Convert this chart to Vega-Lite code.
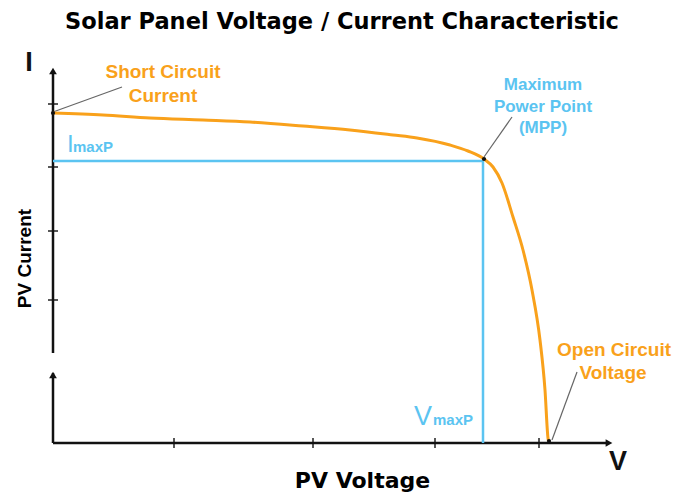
{
  "$schema": "https://vega.github.io/schema/vega-lite/v6.json",
  "width": 560,
  "height": 378,
  "autosize": {"type": "none"},
  "padding": {"left": 53, "top": 65, "right": 65, "bottom": 52},
  "background": "white",
  "config": {"view": {"stroke": null}},
  "title": {
    "text": "Solar Panel Voltage / Current Characteristic",
    "font": "DejaVu Sans",
    "fontWeight": "bold",
    "fontSize": 22.5,
    "color": "#000000",
    "anchor": "middle",
    "baseline": "alphabetic",
    "offset": -2,
    "dx": 9
  },
  "datasets": {
    "curve": [
      {"v": 0, "i": 330}, {"v": 50, "i": 328}, {"v": 97, "i": 325}, {"v": 150, "i": 323},
      {"v": 197, "i": 321}, {"v": 250, "i": 317}, {"v": 297, "i": 313}, {"v": 340, "i": 308},
      {"v": 364, "i": 305}, {"v": 397, "i": 298}, {"v": 415, "i": 292}, {"v": 431, "i": 284},
      {"v": 440, "i": 276}, {"v": 449, "i": 260}, {"v": 460, "i": 226}, {"v": 470, "i": 193},
      {"v": 479, "i": 153}, {"v": 487, "i": 103}, {"v": 492, "i": 53}, {"v": 495, "i": 5},
      {"v": 495.5, "i": 2}
    ],
    "segments": [
      {"kind": "axis", "v": 0, "i": 0, "v2": 0, "i2": 70},
      {"kind": "axis", "v": 0, "i": 90, "v2": 0, "i2": 372},
      {"kind": "axis", "v": 0, "i": 0, "v2": 554, "i2": 0},
      {"kind": "mpp", "v": 0, "i": 282, "v2": 430, "i2": 282},
      {"kind": "mpp", "v": 430, "i": 282, "v2": 430, "i2": 0},
      {"kind": "leader", "v": 0, "i": 331, "v2": 69, "i2": 356},
      {"kind": "leader", "v": 431, "i": 286, "v2": 459, "i2": 326},
      {"kind": "leader", "v": 499, "i": 3, "v2": 524, "i2": 71}
    ],
    "ticks": [
      {"axis": "y", "v": 0, "i": 339}, {"axis": "y", "v": 0, "i": 276},
      {"axis": "y", "v": 0, "i": 212}, {"axis": "y", "v": 0, "i": 143},
      {"axis": "x", "v": 121, "i": 0}, {"axis": "x", "v": 260, "i": 0},
      {"axis": "x", "v": 382, "i": 0}, {"axis": "x", "v": 486, "i": 0}
    ],
    "arrows": [
      {"dir": "up", "v": 0, "i": 372},
      {"dir": "up", "v": 0, "i": 68},
      {"dir": "right", "v": 556, "i": 0}
    ],
    "dots": [
      {"v": 0, "i": 330}, {"v": 431, "i": 284}, {"v": 496, "i": 2}
    ],
    "labels": [
      {"kind": "orange", "v": 110, "i": 371, "text": "Short Circuit"},
      {"kind": "orange", "v": 110, "i": 347, "text": "Current"},
      {"kind": "orange", "v": 561, "i": 93, "text": "Open Circuit"},
      {"kind": "orange", "v": 560, "i": 70, "text": "Voltage"},
      {"kind": "blue", "v": 490, "i": 358, "text": "Maximum"},
      {"kind": "blue", "v": 490, "i": 336, "text": "Power Point"},
      {"kind": "blue", "v": 490, "i": 315, "text": "(MPP)"},
      {"kind": "symI", "v": 14, "i": 291, "text": "I"},
      {"kind": "symV", "v": 361, "i": 18, "text": "V"},
      {"kind": "sub", "v": 20, "i": 291, "text": "maxP"},
      {"kind": "sub", "v": 380, "i": 18, "text": "maxP"},
      {"kind": "axisletter", "v": -24, "i": 380, "text": "I"},
      {"kind": "axisletter", "v": 565, "i": -19, "text": "V"}
    ]
  },
  "encoding": {
    "x": {
      "field": "v", "type": "quantitative",
      "scale": {"domain": [0, 560], "nice": false, "zero": false},
      "axis": {
        "title": "PV Voltage", "domain": false, "ticks": false, "labels": false, "grid": false,
        "titleFont": "DejaVu Sans", "titleFontWeight": "bold", "titleFontSize": 22, "titleColor": "#000000",
        "titleX": 309, "titleY": 37, "titleBaseline": "middle", "titleAlign": "center"
      }
    },
    "y": {
      "field": "i", "type": "quantitative",
      "scale": {"domain": [0, 378], "nice": false, "zero": false},
      "axis": {
        "title": "PV Current", "domain": false, "ticks": false, "labels": false, "grid": false,
        "titleFont": "Liberation Sans", "titleFontWeight": "bold", "titleFontSize": 19, "titleColor": "#000000",
        "titleX": -29, "titleY": 193, "titleAngle": -90, "titleBaseline": "middle", "titleAlign": "center"
      }
    }
  },
  "layer": [
    {
      "data": {"name": "segments"},
      "transform": [{"filter": "datum.kind === 'axis'"}],
      "mark": {"type": "rule", "color": "#111111", "strokeWidth": 2.5},
      "encoding": {"x2": {"field": "v2"}, "y2": {"field": "i2"}}
    },
    {
      "data": {"name": "ticks"},
      "transform": [{"filter": "datum.axis === 'y'"}],
      "mark": {"type": "tick", "orient": "horizontal", "color": "#111111", "size": 10, "thickness": 2}
    },
    {
      "data": {"name": "ticks"},
      "transform": [{"filter": "datum.axis === 'x'"}],
      "mark": {"type": "tick", "orient": "vertical", "color": "#111111", "size": 10, "thickness": 2}
    },
    {
      "data": {"name": "arrows"},
      "transform": [{"filter": "datum.dir === 'up'"}],
      "mark": {"type": "point", "shape": "triangle-up", "filled": true, "color": "#111111", "size": 60, "opacity": 1}
    },
    {
      "data": {"name": "arrows"},
      "transform": [{"filter": "datum.dir === 'right'"}],
      "mark": {"type": "point", "shape": "triangle-right", "filled": true, "color": "#111111", "size": 60, "opacity": 1}
    },
    {
      "data": {"name": "segments"},
      "transform": [{"filter": "datum.kind === 'mpp'"}],
      "mark": {"type": "rule", "color": "#5BC4F1", "strokeWidth": 2.5},
      "encoding": {"x2": {"field": "v2"}, "y2": {"field": "i2"}}
    },
    {
      "data": {"name": "segments"},
      "transform": [{"filter": "datum.kind === 'leader'"}],
      "mark": {"type": "rule", "color": "#666666", "strokeWidth": 1.2},
      "encoding": {"x2": {"field": "v2"}, "y2": {"field": "i2"}}
    },
    {
      "data": {"name": "curve"},
      "mark": {"type": "line", "color": "#F9A11B", "strokeWidth": 3, "interpolate": "monotone"},
      "encoding": {"order": {"field": "v", "type": "quantitative"}}
    },
    {
      "data": {"name": "dots"},
      "mark": {"type": "point", "shape": "circle", "filled": true, "color": "#111111", "size": 18, "opacity": 1}
    },
    {
      "data": {"name": "labels"},
      "transform": [{"filter": "datum.kind === 'orange'"}],
      "mark": {"type": "text", "font": "Liberation Sans", "fontWeight": "bold", "fontSize": 19, "color": "#F9A11B", "align": "center", "baseline": "middle"},
      "encoding": {"text": {"field": "text"}}
    },
    {
      "data": {"name": "labels"},
      "transform": [{"filter": "datum.kind === 'blue'"}],
      "mark": {"type": "text", "font": "Liberation Sans", "fontWeight": "bold", "fontSize": 17, "color": "#5BC4F1", "align": "center", "baseline": "middle"},
      "encoding": {"text": {"field": "text"}}
    },
    {
      "data": {"name": "labels"},
      "transform": [{"filter": "datum.kind === 'symI'"}],
      "mark": {"type": "text", "font": "Liberation Sans", "fontSize": 24, "color": "#5BC4F1", "align": "left", "baseline": "alphabetic"},
      "encoding": {"text": {"field": "text"}}
    },
    {
      "data": {"name": "labels"},
      "transform": [{"filter": "datum.kind === 'symV'"}],
      "mark": {"type": "text", "font": "Liberation Sans", "fontSize": 27, "color": "#5BC4F1", "align": "left", "baseline": "alphabetic"},
      "encoding": {"text": {"field": "text"}}
    },
    {
      "data": {"name": "labels"},
      "transform": [{"filter": "datum.kind === 'sub'"}],
      "mark": {"type": "text", "font": "Liberation Sans", "fontWeight": "bold", "fontSize": 15, "color": "#5BC4F1", "align": "left", "baseline": "alphabetic"},
      "encoding": {"text": {"field": "text"}}
    },
    {
      "data": {"name": "labels"},
      "transform": [{"filter": "datum.kind === 'axisletter'"}],
      "mark": {"type": "text", "font": "Liberation Sans", "fontWeight": "bold", "fontSize": 27, "color": "#111111", "align": "center", "baseline": "middle"},
      "encoding": {"text": {"field": "text"}}
    }
  ]
}
